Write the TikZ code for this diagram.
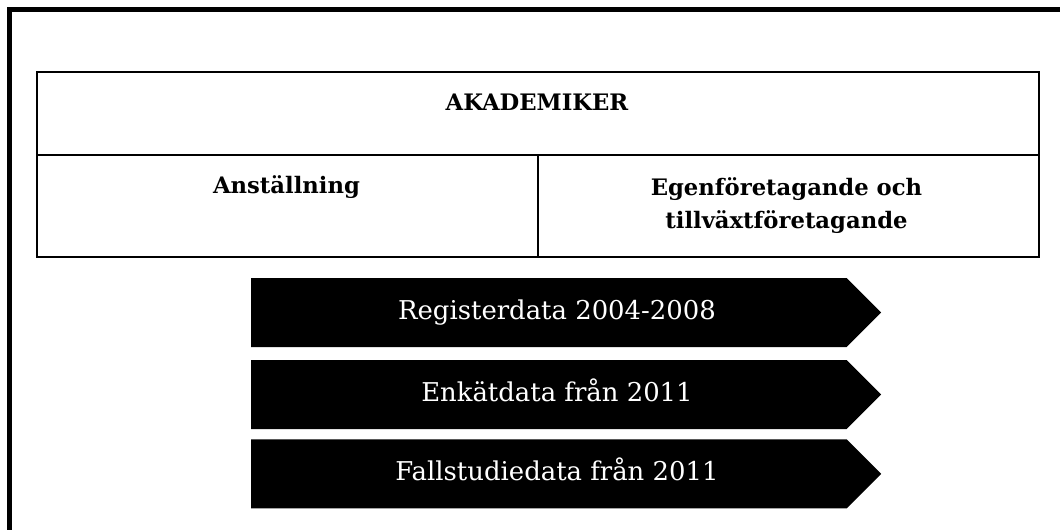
\documentclass[tikz,border=0pt]{standalone}
\usepackage{fontspec}
\setmainfont{DejaVu Serif}
\usetikzlibrary{shapes.symbols}
\begin{document}
\begin{tikzpicture}[x=1pt,y=-1pt,
  box/.style={draw=black, line width=1.6pt, inner sep=0pt, anchor=north west},
  lbl/.style={font=\bfseries\fontsize{22.7}{33}\selectfont, align=center, inner sep=0pt, anchor=base},
  band/.style={fill=black, shape=signal, signal to=east, minimum width=630pt, minimum height=69pt, inner sep=0pt, anchor=west},
  bandtext/.style={text=white, font=\fontsize{25.9}{30}\selectfont, inner sep=0pt, anchor=base}]
\useasboundingbox (0,0) rectangle (1060,530);
\draw[line width=5.3pt] (9.8,545) -- (9.8,9.8) -- (1075,9.8);
% table
\node[box, minimum width=1002pt, minimum height=83pt] (top) at (36,71) {};
\node[box, minimum width=501pt, minimum height=102pt] (left) at (36,154) {};
\node[box, minimum width=501pt, minimum height=102pt] (right) at (537,154) {};
\node[lbl] (akad) at (537,110) {AKADEMIKER};
\node[lbl] (anst) at (286.5,193) {Anställning};
\node[lbl] (egen) at (786.5,228) {Egenföretagande och\\tillväxtföretagande};
% arrows
\node[band] (reg) at (251,312.5) {};
\node[band] (enk) at (251,394.5) {};
\node[band] (fall) at (251,473.8) {};
\node[bandtext] (regt) at (557,319) {Registerdata 2004-2008};
\node[bandtext] (enkt) at (557,401) {Enkätdata från 2011};
\node[bandtext] (fallt) at (557,480.3) {Fallstudiedata från 2011};
\end{tikzpicture}
\end{document}
